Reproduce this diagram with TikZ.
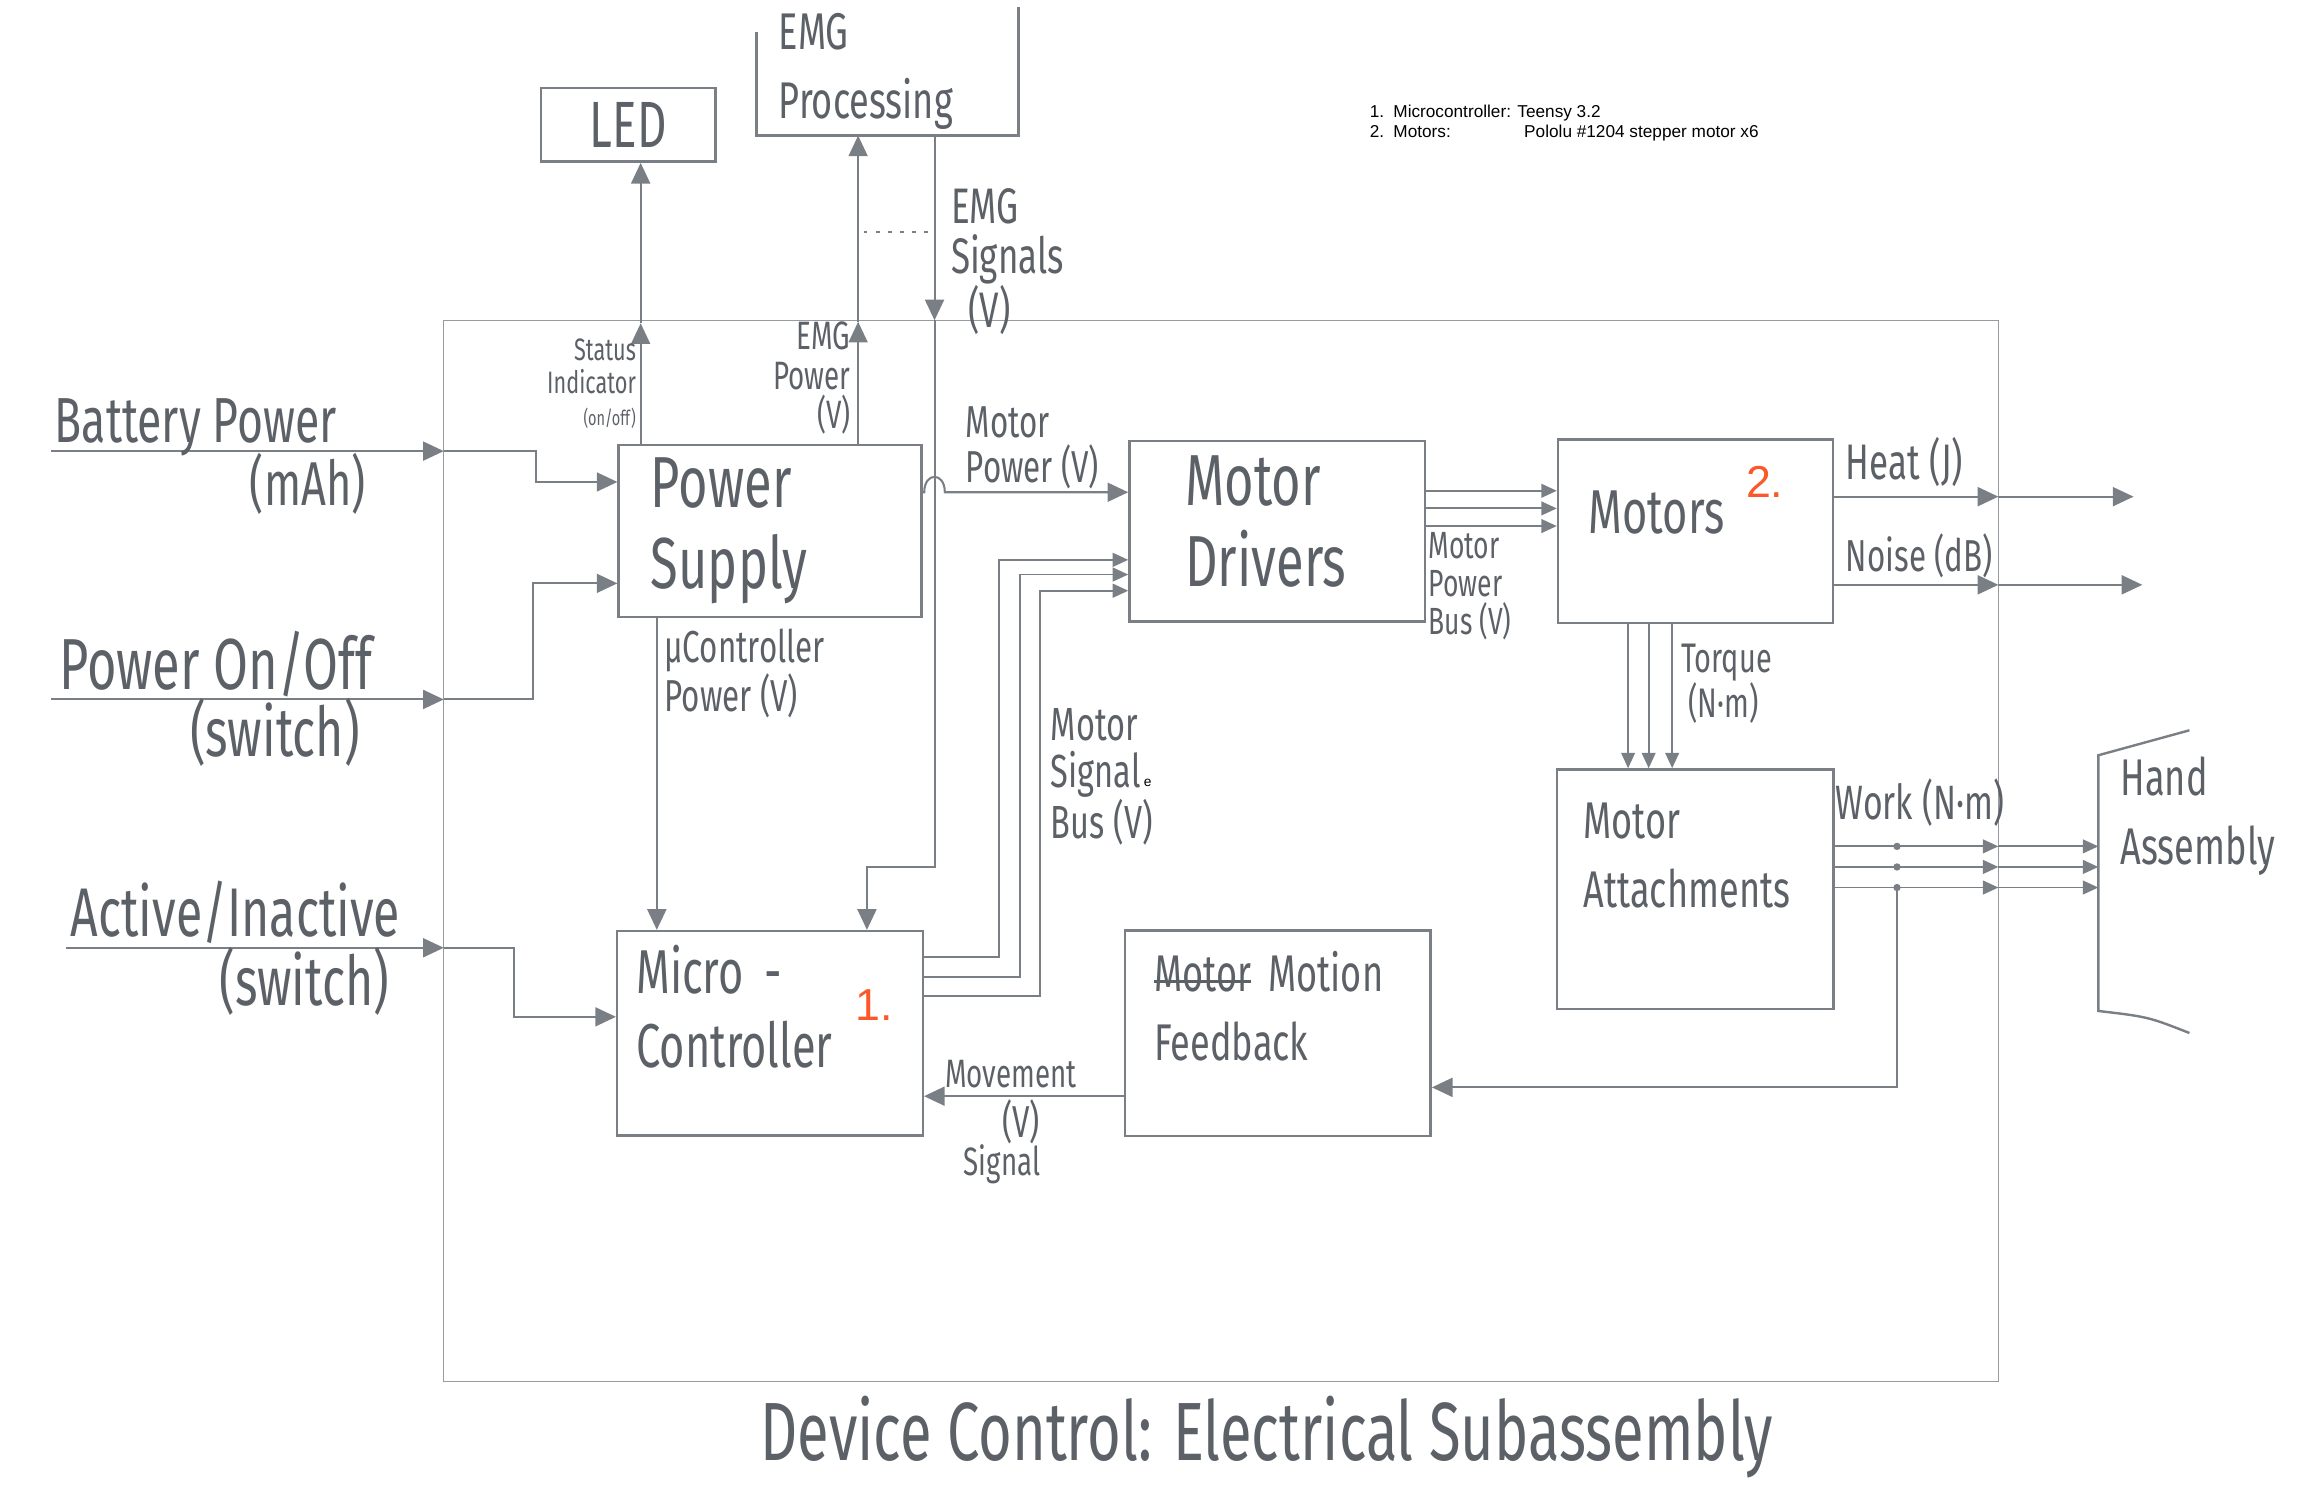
\documentclass[tikz,border=0pt]{standalone}
\usepackage{fontspec}
\setmainfont{Liberation Sans}
\newfontfamily\hand{Fira Sans}[FakeStretch=0.7]
\usetikzlibrary{arrows.meta,positioning,calc}
\definecolor{pencil}{RGB}{122,127,133}
\definecolor{graphite}{RGB}{92,97,103}
\definecolor{frameline}{RGB}{150,155,160}
\definecolor{notered}{RGB}{250,88,40}
\newsavebox\strikebox
\newcommand\strikeout[1]{\sbox\strikebox{#1}\rlap{\usebox\strikebox}\rule[0.3ex]{\wd\strikebox}{2pt}}
\begin{document}
\begin{tikzpicture}[x=0.3mm,y=-0.3mm,
    box/.style={draw=pencil,line width=1.4pt,text=graphite,align=left,inner sep=0pt},
    bigtxt/.style={font=\hand\fontsize{42}{47}\selectfont},
    midtxt/.style={font=\hand\fontsize{36}{43}\selectfont},
    smltxt/.style={font=\hand\fontsize{30}{40}\selectfont},
    boxline/.style={draw=pencil,line width=1.4pt},
    arr/.style={-{Triangle[length=12pt,width=11pt]},draw=pencil,line width=1.2pt},
    busarr/.style={-{Triangle[length=9pt,width=8pt]},draw=pencil,line width=1.1pt},
    lbl/.style={text=graphite,font=\hand\fontsize{26}{26}\selectfont,inner sep=0pt,align=left},
    inlbl/.style={text=graphite,font=\hand\fontsize{40}{40}\selectfont,inner sep=0pt},
    frame/.style={draw=frameline,line width=0.8pt},
    redno/.style={text=notered,font=\fontsize{26}{26}\selectfont,inner sep=0pt},
  ]
    \useasboundingbox (0,0) rectangle (1568,1019);
    \draw[frame] (302,218) rectangle (1360,940);

    \node[box,bigtxt,minimum width=61.8mm,minimum height=35.1mm,text width=48.6mm](ps) at (524,361.5){Power\\Supply};
    \node[box,bigtxt,minimum width=60.3mm,minimum height=36.9mm,text width=37.5mm,text depth=59pt,right=42mm of ps](md){Motor\\Drivers};
    \node[box,midtxt,minimum width=56.1mm,minimum height=37.5mm,text width=43.5mm,text depth=22pt,right=26.7mm of md](mot){Motors};
    \node[box,smltxt,minimum width=56.4mm,minimum height=48.9mm,text width=45.6mm,text depth=79pt,below=29.4mm of mot](att){Motor\\Attachments};
    \node[box,midtxt,minimum width=62.4mm,minimum height=41.7mm,text width=54.6mm,text depth=74pt,below=63.6mm of ps](mc){Micro -\\Controller};
    \node[box,smltxt,minimum width=62.4mm,minimum height=42mm,text width=50.4mm,text depth=72pt,right=40.8mm of mc](fb){\strikeout{Motor} Motion\\Feedback};
    \node[box,font=\hand\fontsize{38}{38}\selectfont,align=center,minimum width=35.7mm,minimum height=15mm](led) at (427.5,85){LED};
    \node[smltxt,text=graphite,align=left,inner sep=0pt,minimum width=53.4mm,minimum height=26.1mm,text width=44.4mm](emg) at (604,48.5){EMG\\Processing};
    \draw[boxline] (emg.south west |- 0,22) -- (emg.south west) -- (emg.south east) -- (emg.north east);
    \node[smltxt,text=graphite,align=left,inner sep=0pt,anchor=north west](hand) at (1443,515){Hand\\Assembly};
    \coordinate (handL) at (1428,600);
    \draw[boxline] (1490,497) -- (1428,514) -- (1428,688) .. controls (1462,692) .. (1490,703);

    \node[redno](n1) at (595,684){1.};
    \node[redno](n2) at (1201,328){2.};
    \node[anchor=north west,font=\fontsize{10}{12}\selectfont,align=left,inner sep=0pt](notes) at (932,71)
      {\makebox[13.7pt][l]{1.}Microcontroller: Teensy 3.2\\
       \makebox[13.7pt][l]{2.}\makebox[76pt][l]{Motors:}Pololu \#1204 stepper motor x6};

    \coordinate (batIn) at (35,307);
    \coordinate (batB) at (302,307);
    \coordinate (swIn) at (35,476);
    \coordinate (swB) at (302,476);
    \coordinate (actIn) at (45,645);
    \coordinate (actB) at (302,645);
    \draw[arr] (batIn) -- (batB);
    \draw[arr] (batB) -- (365,307) |- (ps.west |- 0,328);
    \draw[arr] (swIn) -- (swB);
    \draw[arr] (swB) -- (363,476) |- (ps.west |- 0,397);
    \draw[arr] (actIn) -- (actB);
    \draw[arr] (actB) -- (350,645) |- (mc.west |- 0,692);
    \node[inlbl,font=\hand\fontsize{37}{37}\selectfont,anchor=base west](batLbl) at (37,301){Battery Power};
    \node[inlbl,font=\hand\fontsize{36}{36}\selectfont,anchor=base east](batUnit) at (249,344){(mAh)};
    \node[inlbl,font=\hand\fontsize{42}{42}\selectfont,anchor=base west](swLbl) at (40,469){Power On/Off};
    \node[inlbl,anchor=base east](swUnit) at (245,515){(switch)};
    \node[inlbl,anchor=base west](actLbl) at (48,637){Active/Inactive};
    \node[inlbl,anchor=base east](actUnit) at (265,684){(switch)};

    \coordinate (ledB) at (436,220);
    \coordinate (emgB) at (584,219);
    \coordinate (sigB) at (636,218);
    \draw[arr] (ps.north -| ledB) -- (ledB);
    \draw[arr] (ledB) -- (led.south -| ledB);
    \draw[arr] (ps.north -| emgB) -- (emgB);
    \draw[arr] (emgB) -- (emg.south -| emgB);
    \draw[arr] (emg.south -| sigB) -- (sigB);
    \draw[arr] (sigB) -- (636,590) -| (mc.north -| 590,0);
    \draw[pencil,line width=1pt,dash pattern=on 2pt off 5pt] (588,158) -- (634,158);
    \node[lbl,font=\hand\fontsize{18}{19}\selectfont,align=right,anchor=south east](ledLbl) at (433,292)
      {Status\\Indicator\\{\fontsize{12}{12}\selectfont (on/off)}};
    \node[lbl,font=\hand\fontsize{23}{23}\selectfont,align=right,anchor=south east](emgLbl) at (579,296){EMG\\Power\\(V)};
    \node[lbl,font=\hand\fontsize{29}{29}\selectfont,anchor=north west](sigLbl) at (647,128){EMG\\Signals\\\ \,(V)};

    \draw[arr] (ps.east |- 0,335) -- (629,335) .. controls (629,321) and (643,321) .. (643,335) -- (md.west |- 0,335);
    \node[lbl,anchor=south west](mpLbl) at (657,333){Motor\\Power (V)};
    \draw[arr] (ps.south -| 447,0) -- (mc.north -| 447,0);
    \node[lbl,anchor=north west](ucLbl) at (452,428){µController\\Power (V)};

    \draw[busarr] (mc.east |- 0,651) -| (680,381) -- (md.west |- 0,381);
    \draw[busarr] (mc.east |- 0,665) -| (694,391) -- (md.west |- 0,391);
    \draw[busarr] (mc.east |- 0,678) -| (708,402) -- (md.west |- 0,402);
    \node[lbl,font=\hand\fontsize{27}{27}\selectfont,anchor=north west](busLbl) at (715,482){Motor\\Signal\\Bus (V)};
    \node[font=\fontsize{8}{8}\selectfont,inner sep=0pt](stray) at (781,533){e};

    \draw[busarr] (md.east |- 0,334) -- (mot.west |- 0,334);
    \draw[busarr] (md.east |- 0,346) -- (mot.west |- 0,346);
    \draw[busarr] (md.east |- 0,358) -- (mot.west |- 0,358);
    \node[lbl,font=\hand\fontsize{22}{22}\selectfont,anchor=north west](mpbLbl) at (972,362){Motor\\Power\\Bus (V)};

    \coordinate (heatB) at (1360,338);
    \coordinate (heatOut) at (1452,338);
    \coordinate (noiseB) at (1360,398);
    \coordinate (noiseOut) at (1458,398);
    \draw[arr] (mot.east |- heatB) -- (heatB);
    \draw[arr] (heatB) -- (heatOut);
    \draw[arr] (mot.east |- noiseB) -- (noiseB);
    \draw[arr] (noiseB) -- (noiseOut);
    \node[lbl,font=\hand\fontsize{29}{29}\selectfont,anchor=base west](heatLbl) at (1256,326){Heat (J)};
    \node[lbl,anchor=base west](noiseLbl) at (1256,389){Noise (dB)};

    \draw[busarr] (mot.south -| 1108,0) -- (att.north -| 1108,0);
    \draw[busarr] (mot.south -| 1122,0) -- (att.north -| 1122,0);
    \draw[busarr] (mot.south -| 1138,0) -- (att.north -| 1138,0);
    \node[lbl,font=\hand\fontsize{24}{24}\selectfont,anchor=north west](tqLbl) at (1144,438){Torque\\\,(N·m)};

    \coordinate (w1B) at (1360,576);
    \coordinate (w2B) at (1360,590);
    \coordinate (w3B) at (1360,604);
    \draw[busarr] (att.east |- w1B) -- (w1B);
    \draw[busarr] (att.east |- w2B) -- (w2B);
    \draw[busarr] (att.east |- w3B) -- (w3B);
    \draw[busarr] (w1B) -- (handL |- w1B);
    \draw[busarr] (w2B) -- (handL |- w2B);
    \draw[busarr] (w3B) -- (handL |- w3B);
    \fill[pencil] (1291,576) circle[radius=2.5] (1291,590) circle[radius=2.5] (1291,604) circle[radius=2.5];
    \node[lbl,font=\hand\fontsize{28}{28}\selectfont,anchor=base west](workLbl) at (1249,558){Work (N·m)};
    \coordinate (tap) at (1291,604);
    \draw[arr] (tap) |- (fb.east |- 0,740);

    \draw[arr] (fb.west |- 0,746) -- (mc.east |- 0,746);
    \node[lbl,font=\hand\fontsize{23}{23}\selectfont,anchor=base](mvLbl) at (688,740){Movement};
    \node[lbl,anchor=base](mvUnit) at (695,774){(V)};
    \node[lbl,font=\hand\fontsize{23}{23}\selectfont,anchor=base](mvSig) at (682,800){Signal};

    \node[text=graphite,font=\hand\fontsize{48}{48}\selectfont](title) at (862,978){Device Control: Electrical Subassembly};
  \end{tikzpicture}
\end{document}
